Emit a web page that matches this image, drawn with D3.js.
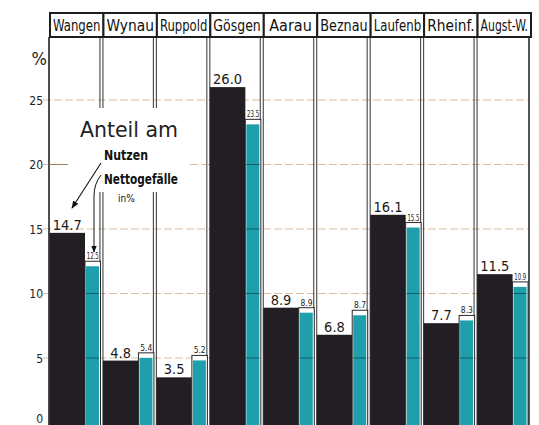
<!DOCTYPE html>
<html><head><meta charset="utf-8">
<script src="https://cdn.jsdelivr.net/npm/d3@7"></script>
<style>
html,body{margin:0;padding:0;background:#fff;}
svg{display:block;}
text{font-family:"DejaVu Sans Condensed","DejaVu Sans",sans-serif;}
</style></head>
<body>
<script>
const categories = ["Wangen","Wynau","Ruppold","Gösgen","Aarau","Beznau","Laufenb","Rheinf.","Augst-W."];
const nutzen = [14.7, 4.8, 3.5, 26.0, 8.9, 6.8, 16.1, 7.7, 11.5];
const nettogefaelle = [12.5, 5.4, 5.2, 23.5, 8.9, 8.7, 15.5, 8.3, 10.9];
const blackLabels = ["14.7","4.8","3.5","26.0","8.9","6.8","16.1","7.7","11.5"];
const cyanLabels = ["12.5","5.4","5.2","23.5","8.9","8.7","15.5","8.3","10.9"];
const yTicks = [0,5,10,15,20,25];

const W = 539, H = 425;
const svg = d3.select("body").append("svg").attr("width", W).attr("height", H);

const x = d3.scaleBand().domain(categories).range([49, 530]).padding(0);
const y = d3.scaleLinear().domain([0, 25]).range([422.5, 100]);
const bw = x.bandwidth();
const headTop = 13, headBot = 37;
const BLACK = "#221e23", CYAN = "#1f9fab";

// gridlines
const grid = svg.append("g");
grid.selectAll("line").data(yTicks.filter(d => d > 0)).join("line")
  .attr("x1", 43).attr("x2", 530)
  .attr("y1", d => y(d)).attr("y2", d => y(d))
  .attr("stroke", "#c09468").attr("stroke-width", 1).attr("stroke-dasharray", "8,3").attr("opacity", 0.6);

// dividers
const div = svg.append("g");
categories.forEach((c, i) => {
  const L = x(c) + bw;
  if (i < categories.length - 1) {
    [L - 2.5, L + 0.5].forEach(xx => {
      div.append("line").attr("x1", xx).attr("x2", xx).attr("y1", headBot).attr("y2", H)
        .attr("stroke", "#444").attr("stroke-width", 1.1);
    });
  } else {
    div.append("line").attr("x1", L - 1).attr("x2", L - 1).attr("y1", headBot).attr("y2", H)
      .attr("stroke", "#2a2a2a").attr("stroke-width", 1.6);
  }
});
svg.append("line").attr("x1", 49).attr("x2", 49).attr("y1", headBot).attr("y2", H)
  .attr("stroke", "#222").attr("stroke-width", 1.6);

// annotation white box
svg.append("rect").attr("x", 54).attr("y", 108).attr("width", 150).attr("height", 84).attr("fill", "#fff");
svg.append("line").attr("x1", 49).attr("x2", 68).attr("y1", y(20)).attr("y2", y(20))
  .attr("stroke", "#a87a50").attr("stroke-width", 1);
svg.append("line").attr("x1", 190).attr("x2", 210).attr("y1", y(20)).attr("y2", y(20))
  .attr("stroke", "#c09468").attr("stroke-width", 1).attr("stroke-dasharray", "8,3").attr("opacity", 0.6);

// bars
const base = y(-0.3);
const g = svg.append("g");
categories.forEach((c, i) => {
  const L = x(c);
  const bx = L + 0.5, bW = 35.5;
  const cx = L + 36, cW = 15.5;
  g.append("rect").attr("x", bx).attr("y", y(nutzen[i])).attr("width", bW).attr("height", base - y(nutzen[i]))
    .attr("fill", BLACK);
  g.append("rect").attr("x", cx).attr("y", y(nettogefaelle[i])).attr("width", cW).attr("height", base - y(nettogefaelle[i]))
    .attr("fill", "#fff").attr("stroke", "#2a2a2a").attr("stroke-width", 1);
  g.append("rect").attr("x", cx + 1).attr("y", y(nettogefaelle[i]) + 5).attr("width", cW - 2.5).attr("height", base - y(nettogefaelle[i]) - 5)
    .attr("fill", CYAN);
  g.append("text").attr("x", bx + bW / 2).attr("y", y(nutzen[i]) - 3).attr("text-anchor", "middle")
    .attr("font-size", 14.5).attr("fill", "#1a1a1a").text(blackLabels[i]);
  g.append("text").attr("x", cx + cW / 2).attr("y", y(nettogefaelle[i]) - 2).attr("text-anchor", "middle")
    .attr("font-size", 9).attr("fill", "#1a1a1a").attr("textLength", 12).attr("lengthAdjust", "spacingAndGlyphs")
    .text(cyanLabels[i]);
});

// grid across cyan bars
const gridC = svg.append("g");
categories.forEach((c, i) => {
  const cx = x(c) + 37;
  yTicks.filter(d => d > 0 && d < nettogefaelle[i] - 0.5).forEach(t => {
    gridC.append("line").attr("x1", cx).attr("x2", cx + 13).attr("y1", y(t)).attr("y2", y(t))
      .attr("stroke", "#0d5d66").attr("stroke-width", 1);
  });
});

// header boxes
const head = svg.append("g");
categories.forEach((c, i) => {
  const L = x(c);
  head.append("rect").attr("x", L + 1).attr("y", headTop).attr("width", bw).attr("height", headBot - headTop)
    .attr("fill", "#fff").attr("stroke", "#1e1e1e").attr("stroke-width", 2);
  const tg = head.append("g").attr("transform", `translate(${L + 1 + bw / 2},${headBot - 6})`);
  const t = tg.append("text").attr("x", 0).attr("y", 0).attr("text-anchor", "middle")
    .attr("font-size", 16).attr("fill", "#111").text(c);
  const len = t.node().getComputedTextLength();
  if (len > bw - 6) tg.attr("transform", `translate(${L + 1 + bw / 2},${headBot - 6}) scale(${(bw - 6) / len},1)`);
});

// y axis labels
const ax = svg.append("g");
ax.selectAll("text").data(yTicks).join("text")
  .attr("x", 43).attr("y", d => Math.min(y(d) + 4.5, 423)).attr("text-anchor", "end")
  .attr("font-size", 12).attr("fill", "#222").text(d => d);
ax.append("text").attr("x", 47).attr("y", 65).attr("text-anchor", "end")
  .attr("font-size", 18).attr("fill", "#222").text("%");

// annotation
const an = svg.append("g");
an.append("text").attr("x", 80).attr("y", 137).attr("font-size", 21).attr("fill", "#222")
  .attr("textLength", 98).attr("lengthAdjust", "spacingAndGlyphs").text("Anteil am");
an.append("text").attr("x", 104).attr("y", 160).attr("font-size", 13.5).attr("font-weight", "bold").attr("fill", "#111")
  .attr("textLength", 44).attr("lengthAdjust", "spacingAndGlyphs").text("Nutzen");
an.append("text").attr("x", 104).attr("y", 184).attr("font-size", 13.5).attr("font-weight", "bold").attr("fill", "#111")
  .attr("textLength", 74).attr("lengthAdjust", "spacingAndGlyphs").text("Nettogefälle");
an.append("text").attr("x", 118).attr("y", 202).attr("font-size", 10).attr("fill", "#111").text("in%");

svg.append("defs").append("marker").attr("id", "ah").attr("viewBox", "0 0 10 10")
  .attr("refX", 9).attr("refY", 5).attr("markerWidth", 7).attr("markerHeight", 7).attr("orient", "auto-start-reverse")
  .append("path").attr("d", "M0,1 L10,5 L0,9 z").attr("fill", "#111");
an.append("path").attr("d", "M101,163 L72,208").attr("stroke", "#111").attr("stroke-width", 1.1).attr("fill", "none").attr("marker-end", "url(#ah)");
an.append("path").attr("d", "M101,175 Q94,184 94,196 L94,252").attr("stroke", "#111").attr("stroke-width", 1).attr("fill", "none").attr("marker-end", "url(#ah)");
</script>
</body></html>
